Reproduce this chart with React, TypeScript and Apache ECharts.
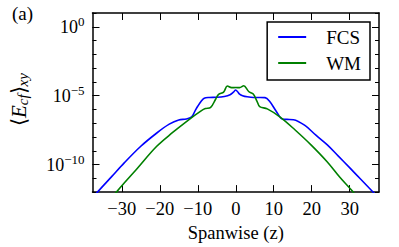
import React, { useEffect, useRef } from 'react';
import * as echarts from 'echarts';

// Tick positions / labels
const xTicks = [-30, -20, -10, 0, 10, 20, 30];
const yMajorExponents = [-10, -5, 0];

// FCS (blue) series: spanwise z and <E_cf>_xy
const fcsZ = [-37.7, -36.4, -32.6, -29.35, -25.06, -20.78, -17.5, -15.0, -13.0, -11.6, -10.7, -10.0, -9.1, -8.3, -7.0, -5.0, -3.0, -1.5, -0.6, 0, 0.5, 1.0, 1.8, 3.0, 4.7, 6.5, 7.7, 8.9, 10.6, 12.3, 13.5, 15.2, 18.2, 21.1, 24.1, 27.0, 29.9, 32.9, 35.8, 37.7];
const fcsE = [3.8e-13, 1.0e-12, 1.38e-11, 1.32e-10, 2.04e-9, 1.95e-8, 8.5e-8, 1.74e-7, 2.0e-7, 2.9e-7, 7.9e-7, 1.7e-6, 4.0e-6, 6.6e-6, 7.4e-6, 7.6e-6, 8.7e-6, 1.15e-5, 1.8e-5, 2.6e-5, 1.9e-5, 1.3e-5, 1.0e-5, 8.3e-6, 7.4e-6, 7.4e-6, 7.2e-6, 3.9e-6, 7.8e-7, 2.0e-7, 1.9e-7, 1.8e-7, 6.9e-8, 1.35e-8, 2.7e-9, 4.1e-10, 6.2e-11, 8.5e-12, 1.26e-12, 3.5e-13];

// WM (green) series
const wmZ = [-32.0, -31.4, -29.3, -26.1, -20.86, -16.68, -12.47, -9.12, -8.0, -6.6, -5.3, -4.5, -3.2, -2.2, -1.1, 0.0, 1.0, 2.1, 3.4, 4.6, 5.6, 6.3, 8.3, 11.7, 15.7, 19.8, 24.1, 27.4, 30.8, 31.6];
const wmE = [6.3e-13, 1.0e-12, 4.7e-12, 4.6e-11, 2.04e-9, 2.04e-8, 1.7e-7, 7.8e-7, 1.15e-6, 1.4e-6, 5.5e-6, 1.25e-5, 1.8e-5, 5.0e-5, 3.8e-5, 3.9e-5, 3.8e-5, 5.2e-5, 2.0e-5, 1.3e-5, 3.9e-6, 1.6e-6, 1.1e-6, 2.8e-7, 3.1e-8, 2.7e-9, 1.55e-10, 1.2e-11, 1.1e-12, 5.0e-13];

const FONT = 'Liberation Serif';
const BLACK = '#000';

export default function App() {
  const ref = useRef<HTMLDivElement>(null);

  useEffect(() => {
    document.body.style.margin = '0';
    if (!ref.current) return;
    const chart = echarts.init(ref.current, undefined, { renderer: 'svg' });

    const axisLine = { show: true, onZero: false, lineStyle: { color: BLACK, width: 1.5 } };
    const supFmt = (v: number) => {
      const e = Math.round(Math.log10(v));
      if (yMajorExponents.indexOf(e) < 0) return '';
      return '{b|10}{s|' + (e < 0 ? '−' + Math.abs(e) : String(e)) + '}';
    };
    const supRich = {
      b: { fontFamily: FONT, fontSize: 18, color: BLACK, lineHeight: 24 },
      s: { fontFamily: FONT, fontSize: 13, color: BLACK, lineHeight: 12, verticalAlign: 'top' },
    };

    chart.setOption({
      animation: false,
      backgroundColor: '#fff',
      grid: { left: 80, right: 20, top: 13, bottom: 50 },
      graphic: [
        { type: 'text', left: 12, top: 4, style: { text: '(a)', fontFamily: FONT, fontSize: 19, fill: BLACK } },
      ],
      legend: {
        orient: 'vertical',
        right: 29,
        top: 22,
        data: ['FCS', 'WM'],
        icon: 'rect',
        borderColor: BLACK,
        borderWidth: 1.5,
        borderRadius: 0,
        backgroundColor: '#fff',
        padding: [5, 9, 7, 11],
        itemWidth: 28,
        itemHeight: 2,
        itemGap: 6,
        textStyle: { fontFamily: FONT, fontSize: 19, color: BLACK, padding: [0, 0, 0, 15], lineHeight: 20 },
      },
      xAxis: [
        {
          type: 'value', min: -37.7, max: 37.7, position: 'bottom',
          axisLine,
          axisTick: { show: true, inside: true, length: 7, customValues: xTicks, lineStyle: { color: BLACK, width: 1 } },
          axisLabel: {
            customValues: xTicks, color: BLACK, fontFamily: FONT, fontSize: 18.5, margin: 7,
            formatter: (v: number) => (v < 0 ? '−' + Math.abs(v) : String(v)),
          },
          splitLine: { show: false },
          name: 'Spanwise (z)', nameLocation: 'middle', nameGap: 29,
          nameTextStyle: { fontFamily: FONT, fontSize: 18.5, color: BLACK },
        },
        {
          type: 'value', min: -37.7, max: 37.7, position: 'top',
          axisLine,
          axisTick: { show: true, inside: true, length: 7, customValues: xTicks, lineStyle: { color: BLACK, width: 1 } },
          axisLabel: { show: false },
          splitLine: { show: false },
        },
      ],
      yAxis: [
        {
          type: 'log', logBase: 10, min: 1e-12, max: 1e1, interval: 1, position: 'left',
          axisLine,
          axisTick: { show: true, inside: true, length: 4, lineStyle: { color: BLACK, width: 1 } },
          axisLabel: { formatter: supFmt, rich: supRich, margin: 8 },
          splitLine: { show: false },
          name: '{m|⟨}{e|E}{s|cf}{m|⟩}{s|xy}',
          nameLocation: 'middle', nameGap: 62,
          nameTextStyle: {
            padding: [0, 0, 0, 6],
            rich: {
              m: { fontFamily: FONT, fontSize: 21, color: BLACK, lineHeight: 24 },
              e: { fontFamily: FONT, fontSize: 21, fontStyle: 'italic', color: BLACK, lineHeight: 24 },
              s: { fontFamily: FONT, fontSize: 15, fontStyle: 'italic', color: BLACK, lineHeight: 14, verticalAlign: 'bottom' },
            },
          },
        },
        {
          type: 'log', logBase: 10, min: 1e-12, max: 1e1, interval: 1, position: 'right',
          axisLine,
          axisTick: { show: true, inside: true, length: 4, lineStyle: { color: BLACK, width: 1 } },
          axisLabel: { show: false },
          splitLine: { show: false },
        },
        {
          type: 'value', min: -12, max: 1, position: 'left',
          axisLine: { show: false, onZero: false },
          axisTick: { show: true, inside: true, length: 7, customValues: yMajorExponents, lineStyle: { color: BLACK, width: 1 } },
          axisLabel: { show: false },
          splitLine: { show: false },
        },
        {
          type: 'value', min: -12, max: 1, position: 'right',
          axisLine: { show: false, onZero: false },
          axisTick: { show: true, inside: true, length: 7, customValues: yMajorExponents, lineStyle: { color: BLACK, width: 1 } },
          axisLabel: { show: false },
          splitLine: { show: false },
        },
      ],
      series: [
        {
          name: 'FCS', type: 'line', xAxisIndex: 0, yAxisIndex: 0,
          data: fcsZ.map((z, i) => [z, fcsE[i]]),
          symbol: 'none', smooth: 0.35, clip: true,
          lineStyle: { color: '#0000ff', width: 1.6 }, itemStyle: { color: '#0000ff' },
        },
        {
          name: 'WM', type: 'line', xAxisIndex: 0, yAxisIndex: 0,
          data: wmZ.map((z, i) => [z, wmE[i]]),
          symbol: 'none', smooth: 0.35, clip: true,
          lineStyle: { color: '#008000', width: 1.6 }, itemStyle: { color: '#008000' },
        },
      ],
    });
    return () => chart.dispose();
  }, []);

  return <div ref={ref} style={{ width: 399, height: 247 }} />;
}
